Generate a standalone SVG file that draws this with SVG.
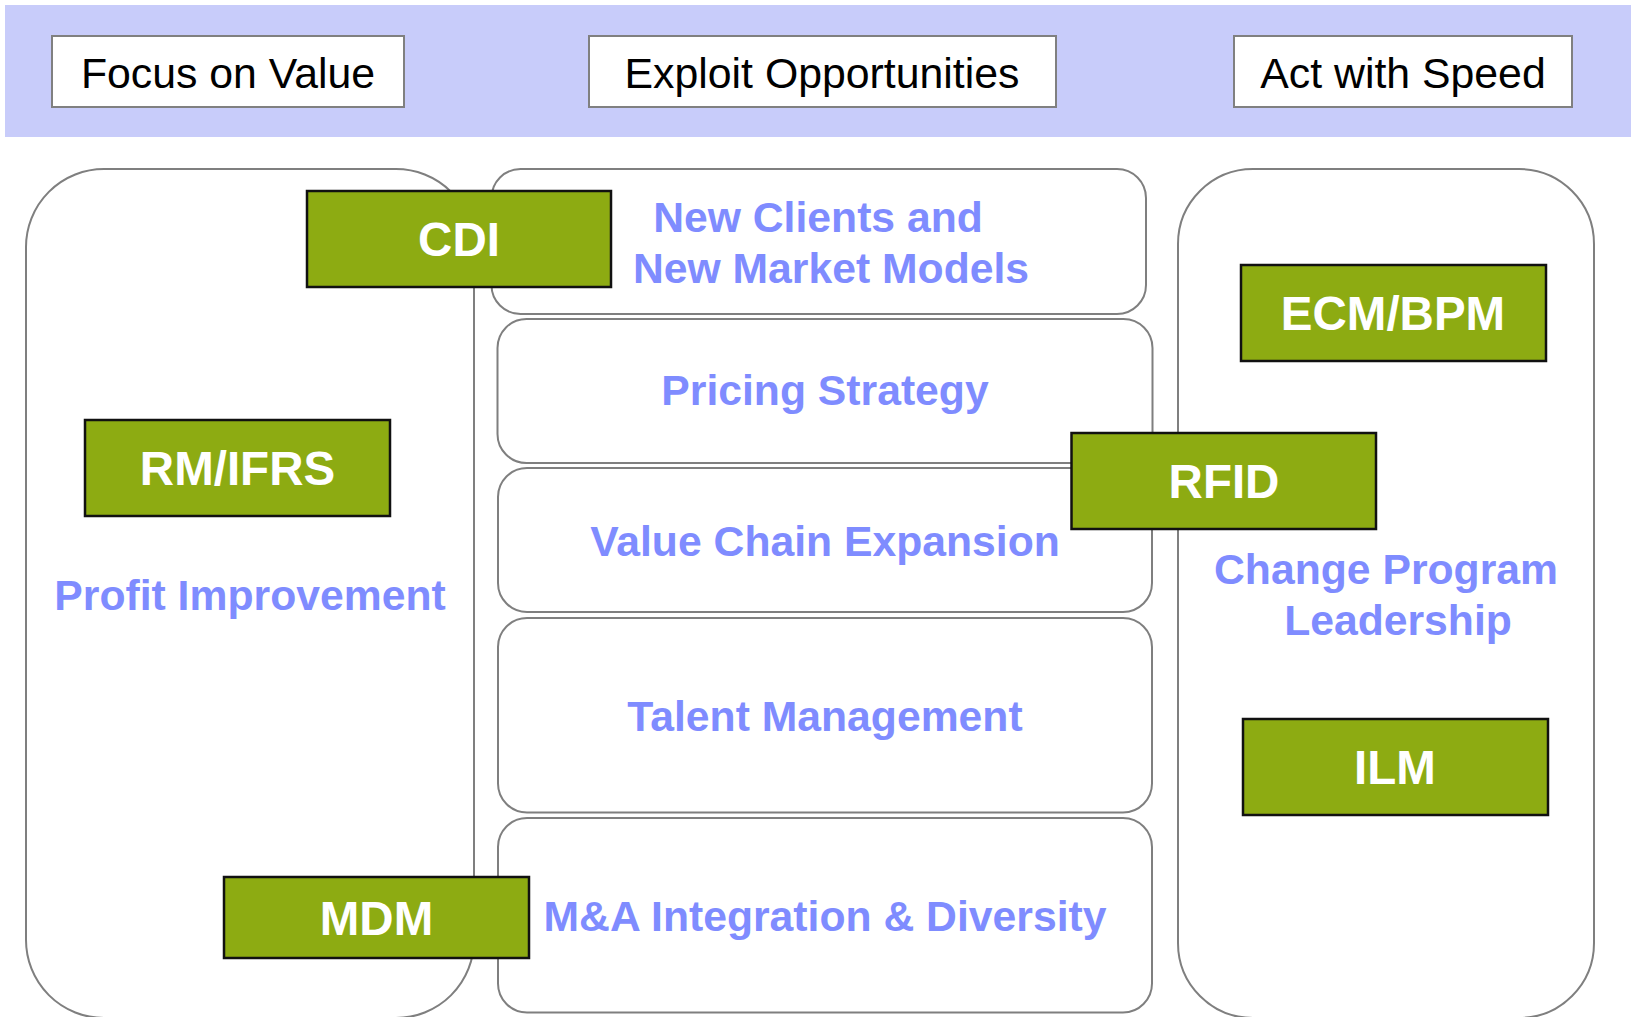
<svg xmlns="http://www.w3.org/2000/svg" width="1631" height="1017" viewBox="0 0 1631 1017">
<style>
.band{fill:#C8CCFA;stroke:none}
.hdr{fill:#FFFFFF;stroke:#808080;stroke-width:2}
.hdrt{font-family:"Liberation Sans",Arial,sans-serif;font-size:42.8px;fill:#000000;text-anchor:middle}
.cont{fill:#FFFFFF;stroke:#7F7F7F;stroke-width:2}
.lbl{font-family:"Liberation Sans",Arial,sans-serif;font-size:42.7px;font-weight:bold;fill:#7F8CFF;text-anchor:middle}
.grn{fill:#8DAB12;stroke:#111111;stroke-width:2.5}
.grnt{font-family:"Liberation Sans",Arial,sans-serif;font-size:47.5px;font-weight:bold;fill:#FFFFFF;text-anchor:middle}
</style>
<rect class="band" x="5" y="5" width="1626" height="132"/>
<g id="focus-on-value">
<rect class="hdr" x="52" y="36" width="352" height="71"/>
<text class="hdrt" x="228" y="88">Focus on Value</text>
</g>
<g id="exploit-opportunities">
<rect class="hdr" x="589" y="36" width="467" height="71"/>
<text class="hdrt" x="822" y="88">Exploit Opportunities</text>
</g>
<g id="act-with-speed">
<rect class="hdr" x="1234" y="36" width="338" height="71"/>
<text class="hdrt" x="1403" y="88">Act with Speed</text>
</g>
<g id="profit-improvement">
<rect class="cont" x="26" y="169" width="448" height="849" rx="78" ry="78"/>
<text class="lbl" x="250" y="610">Profit Improvement</text>
</g>
<g id="change-program-leadership">
<rect class="cont" x="1178" y="169" width="416" height="849" rx="75" ry="75"/>
<text class="lbl" x="1386" y="584">Change Program</text>
<text class="lbl" x="1398" y="635">Leadership</text>
</g>
<g id="new-clients">
<rect class="cont" x="491.5" y="169" width="654.5" height="145" rx="29" ry="29"/>
<text class="lbl" x="818" y="232">New Clients and</text>
<text class="lbl" x="831" y="283">New Market Models</text>
</g>
<g id="pricing-strategy">
<rect class="cont" x="497.5" y="319" width="655" height="144" rx="29" ry="29"/>
<text class="lbl" x="825" y="405">Pricing Strategy</text>
</g>
<g id="value-chain-expansion">
<rect class="cont" x="498" y="468" width="654" height="144" rx="29" ry="29"/>
<text class="lbl" x="825" y="556">Value Chain Expansion</text>
</g>
<g id="talent-management">
<rect class="cont" x="498" y="618" width="654" height="194.5" rx="29" ry="29"/>
<text class="lbl" x="825" y="731">Talent Management</text>
</g>
<g id="ma-integration">
<rect class="cont" x="498" y="818" width="654" height="194.5" rx="29" ry="29"/>
<text class="lbl" x="825" y="931">M&amp;A Integration &amp; Diversity</text>
</g>
<g id="cdi">
<rect class="grn" x="307" y="191" width="304" height="96"/>
<text class="grnt" x="459" y="256">CDI</text>
</g>
<g id="rm-ifrs">
<rect class="grn" x="85" y="420" width="305" height="96"/>
<text class="grnt" x="237.5" y="485">RM/IFRS</text>
</g>
<g id="mdm">
<rect class="grn" x="224" y="877" width="305" height="81"/>
<text class="grnt" x="376.5" y="935">MDM</text>
</g>
<g id="ecm-bpm">
<rect class="grn" x="1241" y="265" width="305" height="96"/>
<text class="grnt" x="1393" y="330">ECM/BPM</text>
</g>
<g id="rfid">
<rect class="grn" x="1071.5" y="433" width="304.5" height="96"/>
<text class="grnt" x="1224" y="498">RFID</text>
</g>
<g id="ilm">
<rect class="grn" x="1243" y="719" width="305" height="96"/>
<text class="grnt" x="1395" y="784">ILM</text>
</g>
<g id="connectors"></g>
</svg>
